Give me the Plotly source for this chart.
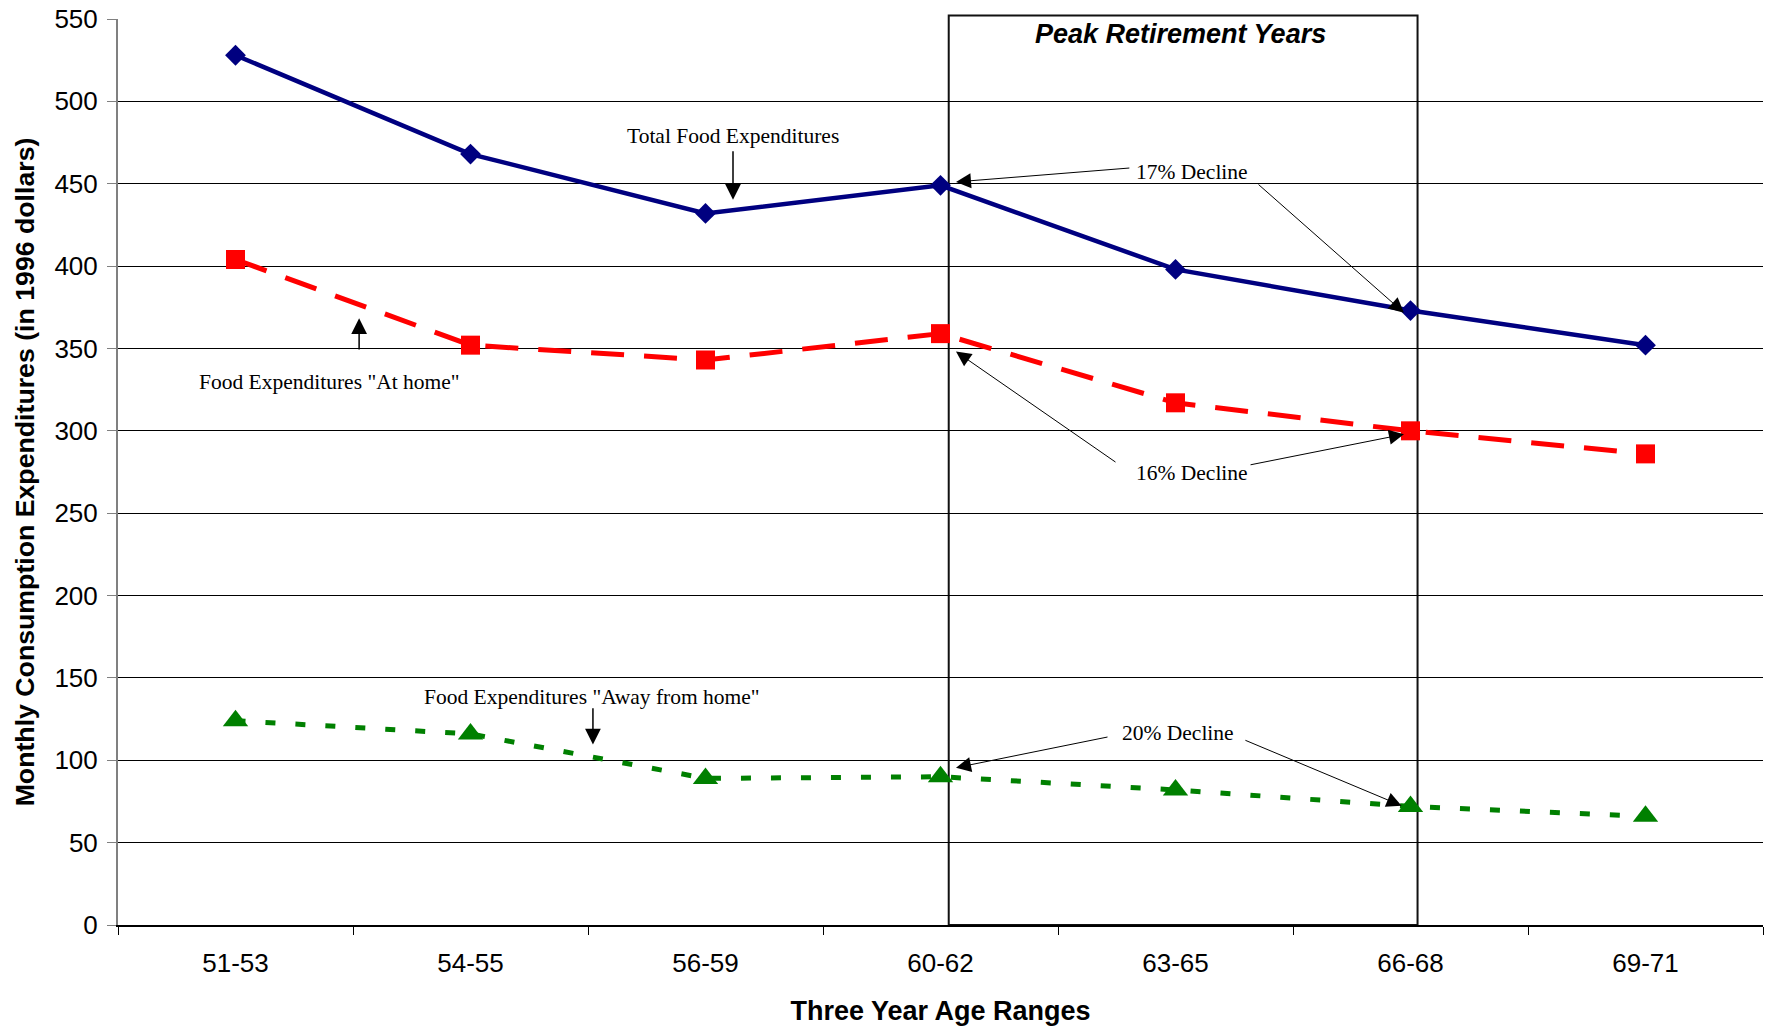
import plotly.graph_objects as go

# ---- data ----
age_ranges = ["51-53", "54-55", "56-59", "60-62", "63-65", "66-68", "69-71"]
total_food = [528, 468, 432, 449, 398, 373, 352]
food_at_home = [404, 352, 343, 359, 317, 300, 286]
food_away = [124, 116, 89, 90, 82, 72, 66]

y_ticks = list(range(0, 551, 50))

fig = go.Figure()

fig.add_trace(go.Scatter(
    x=age_ranges, y=total_food, mode="lines+markers", name="Total Food Expenditures",
    line=dict(color="#000080", width=4.5),
    marker=dict(symbol="diamond", size=16, color="#000080"),
))
fig.add_trace(go.Scatter(
    x=age_ranges, y=food_at_home, mode="lines+markers", name='Food Expenditures "At home"',
    line=dict(color="#FF0000", width=5, dash="33px,20px"),
    marker=dict(symbol="square", size=19, color="#FF0000"),
))
fig.add_trace(go.Scatter(
    x=age_ranges, y=food_away, mode="lines+markers", name='Food Expenditures "Away from home"',
    line=dict(color="#008000", width=5, dash="10px,20px"),
    marker=dict(symbol="triangle-up", size=22, color="#008000"),
))

# Peak retirement box
fig.add_shape(type="rect", xref="x", yref="paper", x0=3.035, x1=5.03, y0=0, y1=1.004,
              line=dict(color="#111111", width=2), fillcolor="rgba(0,0,0,0)", layer="below")

serif = "Liberation Serif, Times New Roman, serif"
sans = "Liberation Sans, Arial, sans-serif"

fig.add_annotation(x=4.02, y=541, xref="x", yref="y", text="<b><i>Peak Retirement Years</i></b>",
                   showarrow=False, font=dict(family=sans, size=27, color="black"))

def label(x, y, text):
    fig.add_annotation(x=x, y=y, xref="x", yref="y", text=text, showarrow=False,
                       font=dict(family=serif, size=21.5, color="black"))

def arrow(tail, head, width=1.0, size=3.0):
    fig.add_annotation(x=head[0], y=head[1], xref="x", yref="y",
                       ax=tail[0], ay=tail[1], axref="x", ayref="y",
                       text="", showarrow=True, arrowhead=2, arrowsize=size,
                       arrowwidth=width, arrowcolor="black")

label(2.117, 479, "Total Food Expenditures")
arrow((2.117, 470.6), (2.117, 440.3), width=1.5, size=2.1)

label(0.398, 329.8, 'Food Expenditures "At home"')
arrow((0.526, 348.5), (0.526, 368.3), width=1.5, size=2.1)

label(1.517, 138.6, 'Food Expenditures "Away from home"')
arrow((1.521, 132.5), (1.521, 109.5), width=1.5, size=2.1)

label(4.07, 457.2, "17% Decline")
arrow((3.81, 459.6), (3.066, 451.1))
arrow((4.347, 450.3), (4.972, 371.7))

label(4.07, 274.6, "16% Decline")
arrow((3.751, 280.4), (3.066, 348.1))
arrow((4.313, 279.2), (4.972, 297.9))

label(4.009, 116.7, "20% Decline")
arrow((3.717, 114.3), (3.066, 95.5))
arrow((4.291, 112.5), (4.962, 72.4))

fig.update_layout(
    width=1765, height=1026,
    margin=dict(l=118, r=2, t=19, b=101),
    paper_bgcolor="white", plot_bgcolor="white",
    showlegend=False,
    font=dict(family=sans, color="black"),
)
fig.update_xaxes(
    type="category", range=[-0.5, 6.5], tickson="boundaries",
    ticks="outside", ticklen=8, tickcolor="black", tickwidth=1,
    showline=True, linecolor="black", linewidth=1.5,
    showgrid=False, zeroline=False,
    tickfont=dict(family=sans, size=26, color="black"),
    ticklabelstandoff=14,
    title=dict(text="<b>Three Year Age Ranges</b>", font=dict(family=sans, size=27, color="black"),
               standoff=25),
)
fig.update_yaxes(
    range=[0, 550], tickvals=y_ticks, automargin=False,
    ticks="outside", ticklen=9, tickcolor="#808080", tickwidth=1,
    ticklabeloverflow="allow",
    showline=True, linecolor="#808080", linewidth=2,
    showgrid=True, gridcolor="black", gridwidth=1, zeroline=False,
    tickfont=dict(family=sans, size=26, color="black"),
    ticklabelstandoff=4,
    title=dict(text="<b>Monthly Consumption Expenditures (in 1996 dollars)</b>",
               font=dict(family=sans, size=26.7, color="black"), standoff=12),
)

fig.write_html("out.html", config={"displayModeBar": False},
               post_script="document.body.style.margin='0';")
